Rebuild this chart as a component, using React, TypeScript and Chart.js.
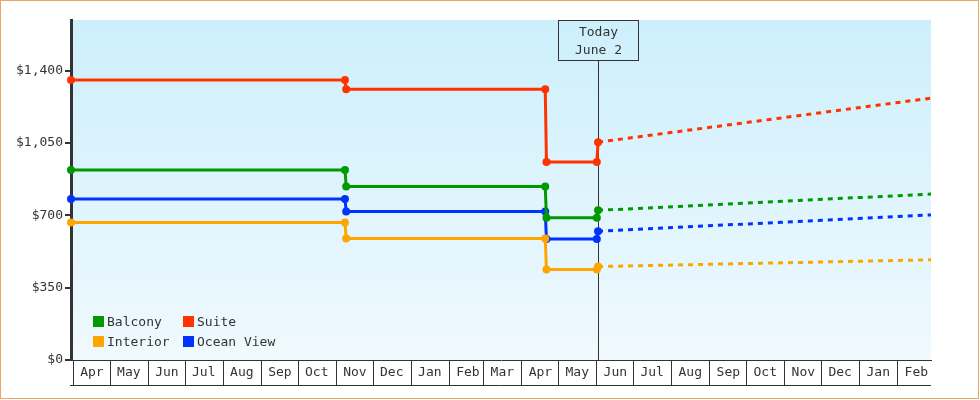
import { useEffect, useRef } from "react";
import { Chart, registerables } from "chart.js";

Chart.register(...registerables);

const FONT = "'DejaVu Sans Mono', monospace";
const INK = "#333333";

// day 0 of the x axis
const ORIGIN = "2022-04-01";
const AXIS_START = "2022-03-30";
const AXIS_END = "2024-02-28";
const TODAY = "2023-06-02";
const todayLabel = ["Today", "June 2"];

const monthLabels = [
	"Apr", "May", "Jun", "Jul", "Aug", "Sep", "Oct", "Nov", "Dec", "Jan", "Feb", "Mar",
	"Apr", "May", "Jun", "Jul", "Aug", "Sep", "Oct", "Nov", "Dec", "Jan", "Feb",
];
const yTicks = [0, 350, 700, 1050, 1400];

// price history (dates where the fare changed)
const priceDates = ["2022-03-30", "2022-11-08", "2022-11-09", "2023-04-20", "2023-04-21", "2023-06-01", "2023-06-02"];
const balcony = [919, 919, 839, 839, 688, 688, 724];
const suite = [1355, 1355, 1310, 1310, 958, 958, 1054];
const interior = [665, 665, 588, 588, 438, 438, 452];
const oceanView = [779, 779, 718, 718, 586, 586, 623];

// projected prices
const forecastDates = ["2023-06-02", "2024-02-28"];
const balconyForecast = [724, 803];
const suiteForecast = [1054, 1267];
const interiorForecast = [452, 485];
const oceanViewForecast = [623, 702];

const seriesNames = ["Balcony", "Suite", "Interior", "Ocean View"];
const seriesColors = ["#009900", "#ff3300", "#ffa500", "#0033ff"];
const history = [balcony, suite, interior, oceanView];
const forecast = [balconyForecast, suiteForecast, interiorForecast, oceanViewForecast];

const DAY = 86400000;
const dayOf = (d: string) => (Date.parse(d) - Date.parse(ORIGIN)) / DAY;
const monthTicks = monthLabels.map((_, i) => (Date.UTC(2022, 3 + i, 1) - Date.parse(ORIGIN)) / DAY);

const framePlugin = {
	id: "frame",
	beforeDraw(chart: any) {
		const { ctx, chartArea } = chart;
		const g = ctx.createLinearGradient(0, chartArea.top, 0, chartArea.bottom);
		g.addColorStop(0, "#cdeffc");
		g.addColorStop(1, "#f0f9fe");
		ctx.save();
		ctx.fillStyle = g;
		ctx.fillRect(chartArea.left, chartArea.top, chartArea.right - chartArea.left, chartArea.bottom - chartArea.top);
		ctx.restore();
	},
	beforeDatasetsDraw(chart: any) {
		const { ctx, chartArea } = chart;
		const x = Math.round(chart.scales.x.getPixelForValue(dayOf(TODAY))) + 0.5;
		const top = chartArea.top + 0.5;
		const boxH = 40;
		ctx.save();
		ctx.strokeStyle = INK;
		ctx.lineWidth = 1;
		ctx.beginPath();
		ctx.moveTo(x, top + boxH);
		ctx.lineTo(x, chartArea.bottom);
		ctx.stroke();
		ctx.strokeRect(x - 40, top, 80, boxH);
		ctx.fillStyle = INK;
		ctx.font = `13px ${FONT}`;
		ctx.textAlign = "center";
		ctx.textBaseline = "middle";
		ctx.fillText(todayLabel[0], x, top + 12);
		ctx.fillText(todayLabel[1], x, top + 30);
		ctx.restore();
	},
	afterDraw(chart: any) {
		const { ctx, chartArea } = chart;
		const y = chartArea.bottom + 25.5;
		ctx.save();
		ctx.strokeStyle = INK;
		ctx.lineWidth = 1;
		ctx.beginPath();
		ctx.moveTo(chartArea.left - 1, y);
		ctx.lineTo(chartArea.right, y);
		ctx.stroke();
		ctx.restore();
	},
};

export default function App() {
	const canvasRef = useRef<HTMLCanvasElement | null>(null);

	useEffect(() => {
		if (!canvasRef.current) {
			return;
		}

		const datasets: any[] = [];
		seriesNames.forEach((name, i) => {
			datasets.push({
				label: name,
				data: priceDates.map((d, j) => ({ x: dayOf(d), y: history[i][j] })),
				borderColor: seriesColors[i],
				backgroundColor: seriesColors[i],
				borderWidth: 3,
				pointRadius: 4,
				pointHoverRadius: 4,
				pointBorderWidth: 0,
				tension: 0,
				clip: false,
			});
			datasets.push({
				label: `${name} forecast`,
				data: forecastDates.map((d, j) => ({ x: dayOf(d), y: forecast[i][j] })),
				borderColor: seriesColors[i],
				borderWidth: 3,
				borderDash: [5, 5],
				pointRadius: 0,
				tension: 0,
				clip: false,
			});
		});

		const chart = new Chart(canvasRef.current, {
			type: "line",
			data: { datasets },
			plugins: [framePlugin],
			options: {
				animation: false,
				responsive: true,
				maintainAspectRatio: false,
				layout: { padding: { top: 20, right: 49, bottom: 0, left: 0 } },
				plugins: {
					legend: { display: false },
					tooltip: { enabled: false },
				},
				font: { family: FONT, size: 13 },
				scales: {
					x: {
						type: "linear",
						min: dayOf(AXIS_START),
						max: dayOf(AXIS_END),
						afterBuildTicks: (scale: any) => {
							scale.ticks = monthTicks.map((v) => ({ value: v }));
						},
						afterFit: (scale: any) => {
							scale.height = 40;
						},
						ticks: {
							autoSkip: false,
							maxRotation: 0,
							labelOffset: 18.5,
							padding: -20,
							color: INK,
							font: { family: FONT, size: 13 },
							callback: (_v: any, i: number) => monthLabels[i],
						},
						grid: {
							drawOnChartArea: false,
							drawTicks: true,
							tickLength: 25,
							color: INK,
							lineWidth: 1,
						},
						border: { display: true, color: INK, width: 1 },
					},
					y: {
						min: 0,
						max: 1645,
						afterBuildTicks: (scale: any) => {
							scale.ticks = yTicks.map((v) => ({ value: v }));
						},
						afterFit: (scale: any) => {
							scale.width = 71;
						},
						ticks: {
							padding: 2,
							color: INK,
							font: { family: FONT, size: 13 },
							callback: (v: any) => `$${Number(v).toLocaleString("en-US")}`,
						},
						grid: {
							drawOnChartArea: false,
							drawTicks: true,
							tickLength: 6,
							color: INK,
							lineWidth: 2,
						},
						border: { display: true, color: INK, width: 3 },
					},
				},
			},
		} as any);

		return () => {
			chart.destroy();
		};
	}, []);

	const legendOrder = [0, 1, 2, 3];

	return (
		<div style={{ position: "fixed", left: 0, top: 0, width: 980, height: 400, background: "#fff" }}>
			<div style={{ position: "absolute", inset: 0 }}>
				<canvas ref={canvasRef} aria-label="Cabin price history chart" />
			</div>
			<div
				style={{
					position: "absolute",
					left: 93,
					top: 311,
					display: "grid",
					gridTemplateColumns: "90px 120px",
					gridAutoRows: "20px",
					fontFamily: FONT,
					fontSize: 13,
					color: INK,
				}}
			>
				{legendOrder.map((i) => (
					<div key={seriesNames[i]} style={{ display: "flex", alignItems: "center" }}>
						<span style={{ width: 11, height: 11, background: seriesColors[i], marginRight: 3 }} />
						<span>{seriesNames[i]}</span>
					</div>
				))}
			</div>
			<div
				style={{
					position: "absolute",
					left: 0,
					top: 0,
					width: 979,
					height: 399,
					boxSizing: "border-box",
					border: "1px solid #e8a862",
					pointerEvents: "none",
				}}
			/>
		</div>
	);
}
